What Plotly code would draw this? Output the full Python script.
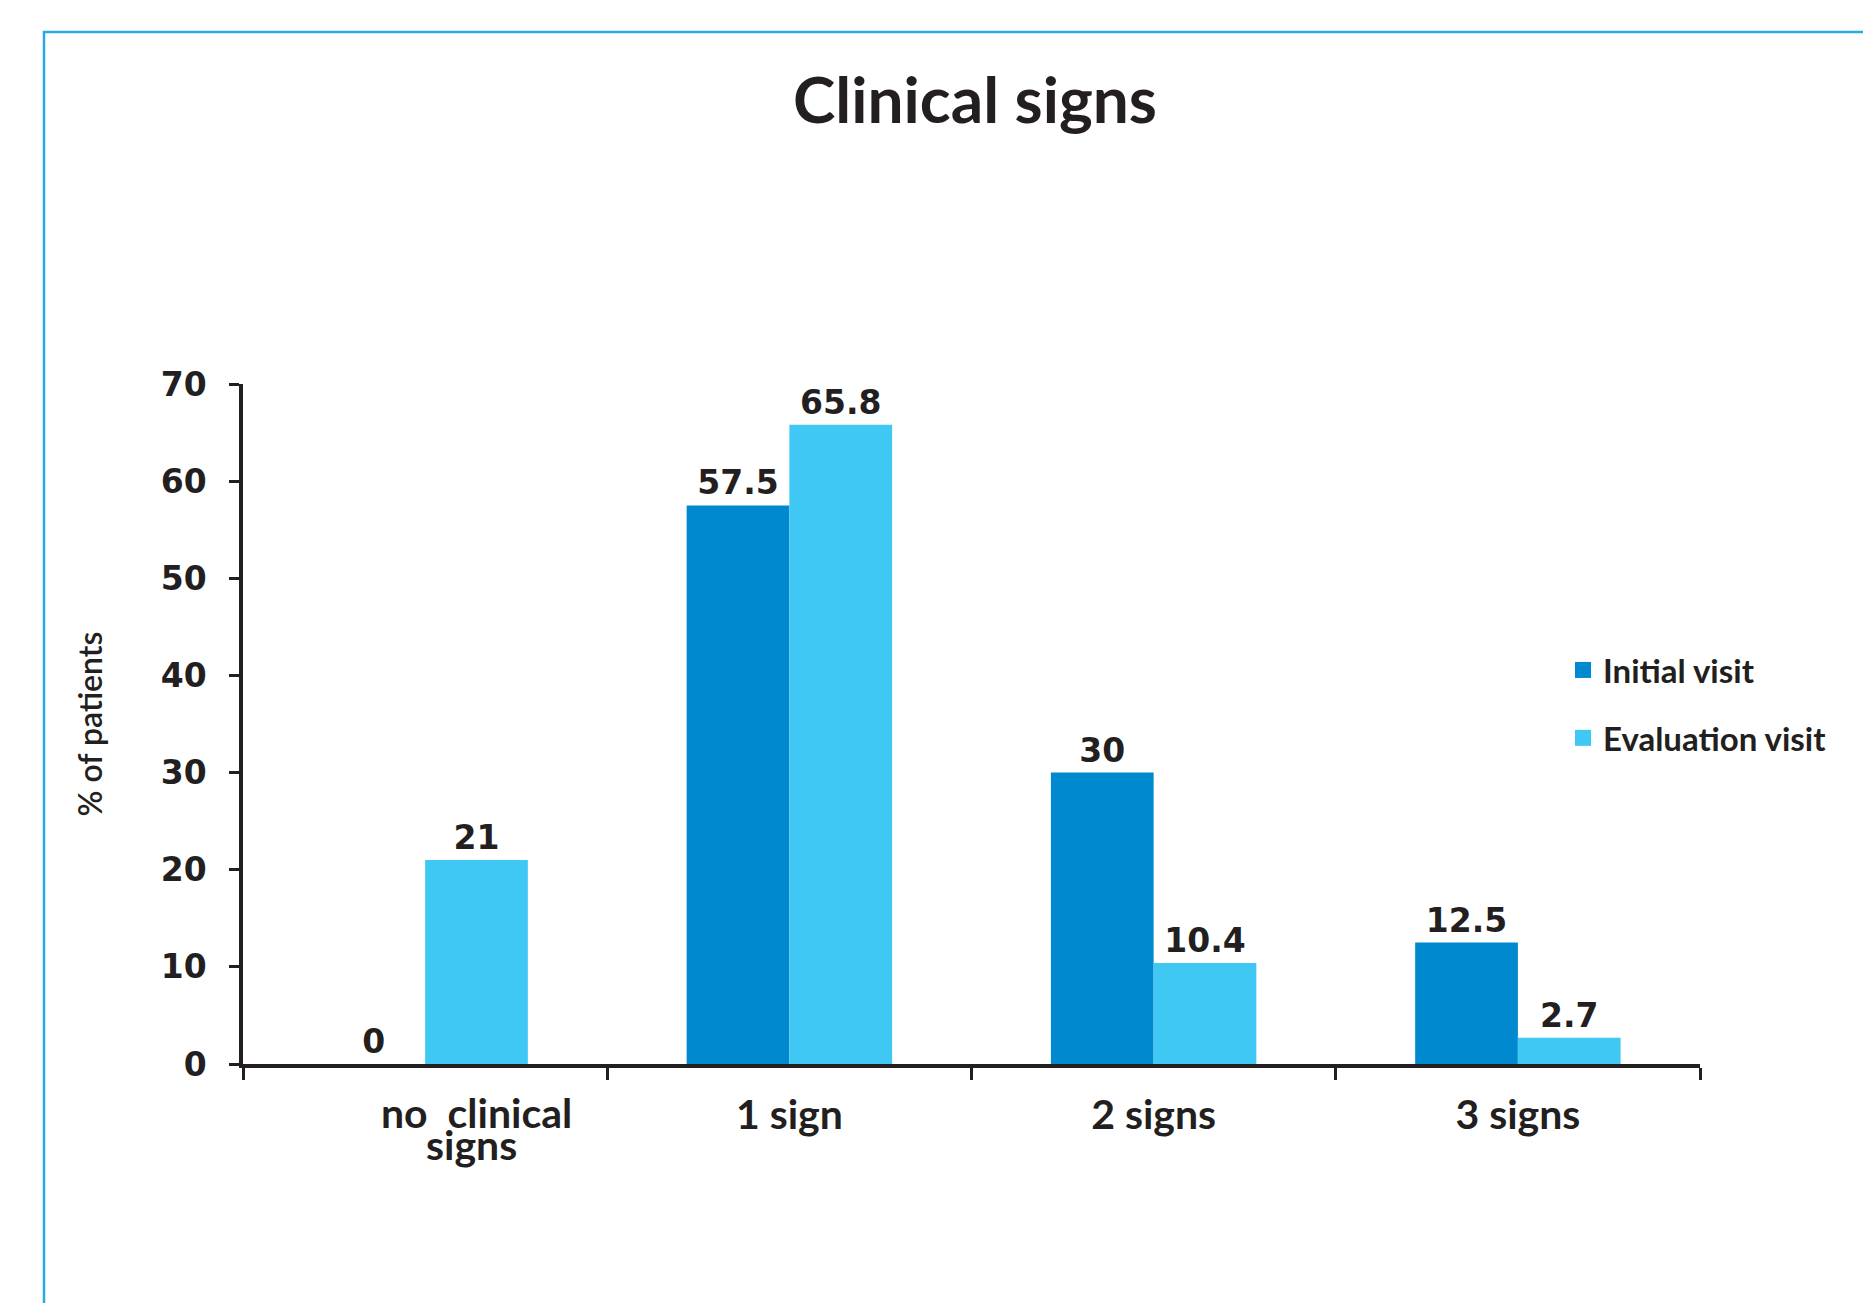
import plotly.graph_objects as go

categories = ["no clinical signs", "1 sign", "2 signs", "3 signs"]
tick_labels = ["", "1 sign", "2 signs", "3 signs"]
first_label_lines = ["no  clinical", "signs"]
initial_visit = [0, 57.5, 30, 12.5]
evaluation_visit = [21, 65.8, 10.4, 2.7]
initial_labels = ["0", "57.5", "30", "12.5"]
evaluation_labels = ["21", "65.8", "10.4", "2.7"]
y_ticks = [0, 10, 20, 30, 40, 50, 60, 70]

INK = "#231F20"
C_INITIAL = "#0089CF"
C_EVAL = "#40C8F4"
BORDER = "#29ABE2"
FONT = "Lato"
NUM_FONT = "DejaVu Sans"

OFF = 8  # page body margin
W, H = 1871 - OFF, 1303 - OFF
L, T = 243 - OFF, 384 - OFF
pw, ph = 1457, 680
R, B = W - L - pw, H - T - ph

def px_x(x):
    return (x - OFF - L) / pw

def px_y(y):
    return (T + ph - (y - OFF)) / ph

fig = go.Figure()
fig.add_trace(go.Bar(
    x=categories, y=initial_visit, name="Initial visit",
    marker=dict(color=C_INITIAL, line=dict(width=0)),
    text=initial_labels, textposition="outside", cliponaxis=False,
    constraintext="none",
    textfont=dict(family=NUM_FONT, size=33, color=INK, weight=700),
    showlegend=False,
))
fig.add_trace(go.Bar(
    x=categories, y=evaluation_visit, name="Evaluation visit",
    marker=dict(color=C_EVAL, line=dict(width=0)),
    text=evaluation_labels, textposition="outside", cliponaxis=False,
    constraintext="none",
    textfont=dict(family=NUM_FONT, size=33, color=INK, weight=700),
    showlegend=False,
))
# legend entries (square swatches)
for name, col, grp in [("Initial visit", C_INITIAL, "a"), ("Evaluation visit", C_EVAL, "b")]:
    fig.add_trace(go.Scatter(
        x=[None], y=[None], mode="markers", name=name,
        marker=dict(symbol="square", size=16, color=col),
        legendgroup=grp, showlegend=True, hoverinfo="skip",
    ))

label_font = dict(family=FONT, size=41, color=INK, weight=700)
annotations = [
    dict(text=first_label_lines[0], x=categories[0], xref="x", xshift=51,
         y=px_y(1112), yref="paper", yanchor="middle", showarrow=False, font=label_font),
    dict(text=first_label_lines[1], x=categories[0], xref="x", xshift=46,
         y=px_y(1144), yref="paper", yanchor="middle", showarrow=False, font=label_font),
]

fig.update_layout(
    width=W, height=H,
    margin=dict(l=L, r=R, t=T, b=B, pad=0),
    paper_bgcolor="white", plot_bgcolor="white",
    barmode="group", bargap=0.436, bargroupgap=0,
    title=dict(text="Clinical signs", x=(975 - OFF) / W, xref="container", xanchor="center",
               y=1 - (101 - OFF) / H, yref="container", yanchor="middle",
               font=dict(family=FONT, size=64, color=INK, weight=700)),
    font=dict(family=FONT, color=INK),
    showlegend=True,
    legend=dict(x=px_x(1563), y=px_y(642), xanchor="left", yanchor="top",
                font=dict(family=FONT, size=33, color=INK, weight=700),
                traceorder="grouped", tracegroupgap=22,
                bgcolor="rgba(0,0,0,0)", itemwidth=30),
    xaxis=dict(
        type="category", tickson="boundaries", ticks="outside", ticklen=12,
        tickwidth=3, tickcolor=INK, showline=True, linecolor=INK, linewidth=3.5,
        showgrid=False, zeroline=False,
        tickvals=categories, ticktext=tick_labels,
        tickfont=label_font,
        ticklabelstandoff=12,
    ),
    yaxis=dict(
        range=[0, 70], tickvals=y_ticks, ticks="outside", ticklen=10,
        tickwidth=3, tickcolor=INK, showline=True, linecolor=INK, linewidth=3.5,
        showgrid=False, zeroline=False,
        tickfont=dict(family=NUM_FONT, size=33, color=INK, weight=700),
        ticklabelstandoff=16,
        title=dict(text="% of patients", standoff=50,
                   font=dict(family=FONT, size=32, color=INK, weight=600)),
    ),
    annotations=annotations,
    shapes=[dict(type="rect", xref="paper", yref="paper",
                 x0=px_x(44), x1=px_x(1900), y0=px_y(1340), y1=px_y(32),
                 line=dict(color=BORDER, width=2.5), fillcolor="rgba(0,0,0,0)",
                 layer="below")],
)

fig.write_html("out.html")
